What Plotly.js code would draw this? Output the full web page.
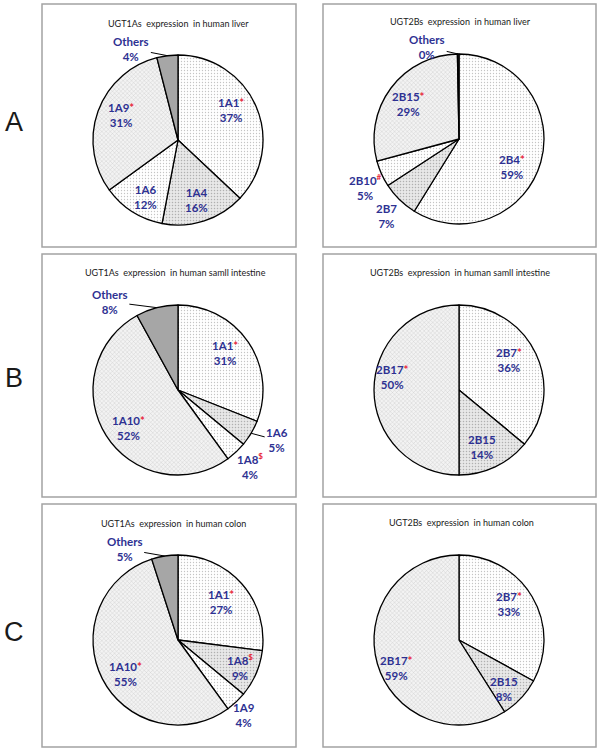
<!DOCTYPE html>
<html>
<head>
<meta charset="utf-8">
<script src="https://cdn.plot.ly/plotly-3.0.1.min.js"></script>
<style>
  html, body { margin: 0; padding: 0; background: #fff; }
  #fig { width: 601px; height: 756px; }
</style>
</head>
<body>
<div id="fig"></div>
<script>
const FIG_W = 601, FIG_H = 756;
const R = 85;               // pie radius in px
const BLUE = '#2e3192';
const RED = '#e8283c';

// ---- data ----
const liver1Labels = ['1A1', '1A4', '1A6', '1A9', 'Others'];
const liver1Values = [37, 16, 12, 31, 4];
const liver1Marks  = ['*', '', '', '*', ''];

const liver2Labels = ['2B4', '2B7', '2B10', '2B15', 'Others'];
const liver2Values = [59, 7, 5, 29, 0.3];
const liver2Marks  = ['*', '', '#', '*', ''];

const small1Labels = ['1A1', '1A6', '1A8', '1A10', 'Others'];
const small1Values = [31, 5, 4, 52, 8];
const small1Marks  = ['*', '', '$', '*', ''];

const small2Labels = ['2B7', '2B15', '2B17'];
const small2Values = [36, 14, 50];
const small2Marks  = ['*', '', '*'];

const colon1Labels = ['1A1', '1A8', '1A9', '1A10', 'Others'];
const colon1Values = [27, 9, 4, 55, 5];
const colon1Marks  = ['*', '$', '', '*', ''];

const colon2Labels = ['2B7', '2B15', '2B17'];
const colon2Values = [33, 8, 59];
const colon2Marks  = ['*', '', '*'];

const rowLetters = ['A', 'B', 'C'];

// fill styles (mimic the excel dot / hatch textures)
const FILLS = {
  dots:  {bg: '#ffffff', fg: '#c4c4c4', shape: '.', size: 3, solidity: 0.15},
  dense: {bg: '#e8e8e8', fg: '#b0b0b0', shape: '.', size: 3, solidity: 0.2},
  hatch: {bg: '#f3f3f3', fg: '#bdbdbd', shape: 'x', size: 3, solidity: 0.2},
  solid: {bg: '#a6a6a6', fg: '#a6a6a6', shape: '', size: 3, solidity: 0.2},
  black: {bg: '#333333', fg: '#333333', shape: '', size: 3, solidity: 0.2}
};

// label placement: [radius fraction, angle tweak deg] or {lead:[dx,dy]} for leader lines
const panels = [
  {title: 'UGT1As\u00a0\u00a0expression\u00a0\u00a0in human liver', tx: 178, ty: 23, cx: 178, cy: 140,
   labels: liver1Labels, values: liver1Values, marks: liver1Marks,
   fills: ['dots', 'dense', 'dots', 'hatch', 'solid'],
   place: [[0.71, -6], [0.74, 1], [0.77, -3], [0.73, 4], {lead: [-36, -7]}]},
  {title: 'UGT2Bs\u00a0\u00a0expression\u00a0\u00a0in human liver', tx: 460, ty: 22, cx: 459, cy: 139,
   labels: liver2Labels, values: liver2Values, marks: liver2Marks,
   fills: ['dots', 'dense', 'dots', 'hatch', 'black'],
   place: [[0.71, 12], [1.24, -1], [1.24, -3], [0.72, -2], {lead: [-31, -7]}]},
  {title: 'UGT1As\u00a0\u00a0expression\u00a0\u00a0in human samll intestine', tx: 175, ty: 272, cx: 178, cy: 390,
   labels: small1Labels, values: small1Values, marks: small1Marks,
   fills: ['dots', 'dense', 'dots', 'hatch', 'solid'],
   place: [[0.71, -4], {lead: [26, 7]}, [1.23, 0], [0.74, -5], {lead: [-47, -6]}]},
  {title: 'UGT2Bs\u00a0\u00a0expression\u00a0\u00a0in human samll intestine', tx: 460, ty: 272, cx: 459, cy: 390,
   labels: small2Labels, values: small2Values, marks: small2Marks,
   fills: ['dots', 'dense', 'hatch'],
   place: [[0.69, -6], [0.73, 3], [0.8, 11]]},
  {title: 'UGT1As\u00a0\u00a0expression\u00a0\u00a0in human colon', tx: 173, ty: 523, cx: 178, cy: 640,
   labels: colon1Labels, values: colon1Values, marks: colon1Marks,
   fills: ['dots', 'dense', 'dots', 'hatch', 'solid'],
   place: [[0.68, 0], [0.8, 0], [1.17, 2], [0.74, -6], {lead: [-40, -7]}]},
  {title: 'UGT2Bs\u00a0\u00a0expression\u00a0\u00a0in human colon', tx: 461, ty: 522, cx: 459, cy: 640,
   labels: colon2Labels, values: colon2Values, marks: colon2Marks,
   fills: ['dots', 'dense', 'hatch'],
   place: [[0.72, -5], [0.78, 4], [0.81, -8]]}
];

// panel frames
const frameX = [[42, 296], [323, 596]];
const frameY = [[4, 247], [254, 497], [504, 747]];
const letterY = [122, 378, 632];

const px2x = (px) => px / FIG_W;
const px2y = (py) => 1 - py / FIG_H;

var traces = [];
var annotations = [];
var shapes = [];

panels.forEach(function(p) {
  var f = p.fills.map(k => FILLS[k]);
  traces.push({
    type: 'pie',
    labels: p.labels,
    values: p.values,
    sort: false,
    direction: 'clockwise',
    rotation: 0,
    textinfo: 'none',
    hoverinfo: 'none',
    showlegend: false,
    domain: {x: [px2x(p.cx - R), px2x(p.cx + R)], y: [px2y(p.cy + R), px2y(p.cy - R)]},
    marker: {
      colors: f.map(s => s.bg),
      line: {color: '#000', width: 1.3},
      pattern: {
        shape: f.map(s => s.shape),
        fgcolor: f.map(s => s.fg),
        bgcolor: f.map(s => s.bg),
        size: f.map(s => s.size),
        solidity: f.map(s => s.solidity),
        fillmode: 'replace'
      }
    }
  });

  annotations.push({
    xref: 'paper', yref: 'paper', x: px2x(p.tx), y: px2y(p.ty),
    text: p.title, showarrow: false, xanchor: 'center', yanchor: 'middle',
    font: {family: 'Lato, Open Sans, sans-serif', size: 9, color: '#1a1a1a'}
  });

  var total = p.values.reduce((a, b) => a + b, 0);
  var cum = 0;
  p.values.forEach(function(v, i) {
    var mid = (cum + v / 2) / total * 360;
    cum += v;
    var m = p.marks[i];
    var mark = '';
    if (m === '*') mark = '<span style="color:' + RED + '">*</span>';
    else if (m) mark = '<sup><span style="color:' + RED + '">' + m + '</span></sup>';
    var txt = p.labels[i] + mark + '<br>' + Math.round(v) + '%';
    var pl = p.place[i];
    var ann = {
      xref: 'paper', yref: 'paper', text: txt, xanchor: 'center', yanchor: 'middle',
      font: {family: 'Lato, Open Sans, sans-serif', size: 11.5, color: BLUE, weight: 700}
    };
    if (Array.isArray(pl)) {
      var a = (mid + pl[1]) * Math.PI / 180;
      ann.x = px2x(p.cx + pl[0] * R * Math.sin(a));
      ann.y = px2y(p.cy - pl[0] * R * Math.cos(a));
      ann.showarrow = false;
    } else {
      var a2 = mid * Math.PI / 180;
      ann.x = px2x(p.cx + R * Math.sin(a2));
      ann.y = px2y(p.cy - R * Math.cos(a2));
      ann.showarrow = true;
      ann.arrowhead = 0;
      ann.arrowwidth = 1;
      ann.arrowcolor = '#000';
      ann.ax = pl.lead[0];
      ann.ay = pl.lead[1];
    }
    annotations.push(ann);
  });
});

frameY.forEach(function(fy, r) {
  frameX.forEach(function(fx) {
    shapes.push({type: 'rect', xref: 'paper', yref: 'paper',
      x0: px2x(fx[0]), x1: px2x(fx[1]), y0: px2y(fy[1]), y1: px2y(fy[0]),
      line: {color: '#a3a3a3', width: 1.5}});
  });
  annotations.push({
    xref: 'paper', yref: 'paper', x: px2x(14), y: px2y(letterY[r]),
    text: rowLetters[r], showarrow: false, xanchor: 'center', yanchor: 'middle',
    font: {family: 'Liberation Sans, Arial, sans-serif', size: 27, color: '#1a1a1a'}
  });
});

var layout = {
  width: FIG_W,
  height: FIG_H,
  margin: {l: 0, r: 0, t: 0, b: 0},
  paper_bgcolor: '#fff',
  showlegend: false,
  annotations: annotations,
  shapes: shapes
};

Plotly.newPlot('fig', traces, layout, {displayModeBar: false, staticPlot: true});
</script>
</body>
</html>
